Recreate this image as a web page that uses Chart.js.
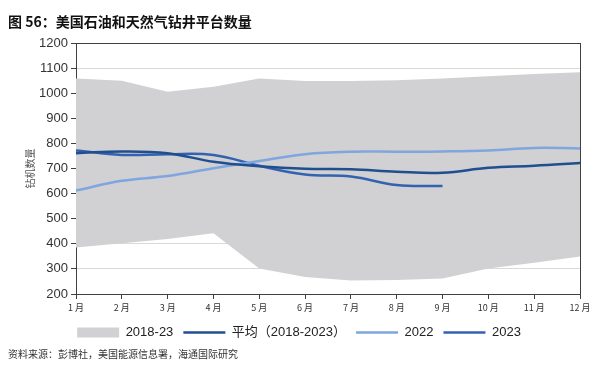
<!DOCTYPE html>
<html><head><meta charset="utf-8">
<script src="https://cdn.jsdelivr.net/npm/chart.js@4.4.0/dist/chart.umd.min.js"></script>
<style>
html,body{margin:0;padding:0;background:#fff;}
#wrap{position:relative;width:600px;height:369px;}
#title{position:absolute;left:8px;top:11px;font:bold 14px "Noto Sans CJK SC",sans-serif;color:#111;white-space:nowrap;}
#source{position:absolute;left:8px;top:346px;font:10px "Noto Sans CJK SC",sans-serif;color:#333;white-space:nowrap;}
canvas{position:absolute;left:0;top:0;}
</style></head>
<body>
<div id="wrap">
<canvas id="c" width="600" height="369"></canvas>
<div id="title">图 56：美国石油和天然气钻井平台数量</div>
<div id="source">资料来源：彭博社，美国能源信息署，海通国际研究</div>
</div>
<script>
const months = ["1 月","2 月","3 月","4 月","5 月","6 月","7 月","8 月","9 月","10 月","11 月","12 月"];
const bandMax = [1059,1050,1006,1026,1059,1049,1049,1052,1059,1068,1076,1083];
const bandMin = [385,402,419,442,302,268,254,256,262,302,325,349];
const avg = [761,768,761,727,709,699,697,687,683,703,711,722];
const y2022 = [612,651,670,701,730,757,767,767,768,772,782,780];
const y2023 = [772,754,757,754,711,676,668,634,630,null,null,null];
const yTicks = [200,300,400,500,600,700,800,900,1000,1100,1200];

const legendRank = {3:0,0:1,1:2,2:3};
new Chart(document.getElementById('c'), {
  type: 'line',
  data: {
    labels: months,
    datasets: [
      {label:'平均（2018-2023）', data:avg, borderColor:'#1f4f8f', backgroundColor:'#1f4f8f', borderWidth:2.5, pointRadius:0, tension:0.4, fill:false, pointStyle:'line'},
      {label:'2022', data:y2022, borderColor:'#7fa6de', backgroundColor:'#7fa6de', borderWidth:2.5, pointRadius:0, tension:0.4, fill:false, pointStyle:'line'},
      {label:'2023', data:y2023, borderColor:'#3262b0', backgroundColor:'#3262b0', borderWidth:2.5, pointRadius:0, tension:0.4, fill:false, pointStyle:'line', spanGaps:false},
      {label:'2018-23', data:bandMin, borderWidth:0, borderColor:'rgba(0,0,0,0)', backgroundColor:'#d1d0d3', pointRadius:0, tension:0, fill:false, pointStyle:'rect'},
      {label:'band-max', data:bandMax, borderWidth:0, borderColor:'rgba(0,0,0,0)', backgroundColor:'#d1d0d3', pointRadius:0, tension:0, fill:'-1', pointStyle:'rect'}
    ]
  },
  options: {
    responsive:false, animation:false,
    layout:{padding:{left:18,right:20,top:43,bottom:20}},
    plugins:{
      tooltip:{enabled:false},
      legend:{
        position:'bottom',
        labels:{
          usePointStyle:true, pointStyleWidth:42, boxHeight:10, padding:10,
          color:'#222', font:{family:'"Liberation Sans","Noto Sans CJK SC",sans-serif', size:13},
          filter:(it)=>it.datasetIndex!==4,
          sort:(a,b)=>legendRank[a.datasetIndex]-legendRank[b.datasetIndex]
        }
      }
    },
    scales:{
      x:{
        type:'category', offset:false,
        grid:{display:true, drawOnChartArea:false, tickLength:5, tickColor:'#404040'},
        border:{display:true, color:'#404040', width:1},
        ticks:{color:'#333', font:{family:'"Noto Sans CJK SC",sans-serif', size:9}, maxRotation:0, autoSkip:false, padding:3},
        afterFit:(s)=>{s.height=22;}
      },
      x2:{
        type:'category', position:'top', labels:months, offset:false,
        grid:{display:false}, ticks:{display:false},
        border:{display:true, color:'#404040', width:1},
        afterFit:(s)=>{s.height=0;}
      },
      y:{
        min:200, max:1200,
        afterBuildTicks:(s)=>{s.ticks=yTicks.map(v=>({value:v}));},
        grid:{color:'#d9d9d9', lineWidth:1, tickLength:5, tickColor:'#404040'},
        border:{display:true, color:'#404040', width:1},
        ticks:{color:'#333', font:{family:'"Liberation Sans",sans-serif', size:13}, padding:3, callback:(v)=>String(v)},
        title:{display:true, text:'钻机数量', color:'#555', font:{family:'"Noto Sans CJK SC",sans-serif', size:10}, padding:{top:6,bottom:2}},
        afterFit:(s)=>{s.width=58;}
      },
      y2:{
        position:'right', min:200, max:1200,
        grid:{display:false}, ticks:{display:false},
        border:{display:true, color:'#404040', width:1},
        afterFit:(s)=>{s.width=0;}
      }
    }
  }
});
</script>
</body></html>
